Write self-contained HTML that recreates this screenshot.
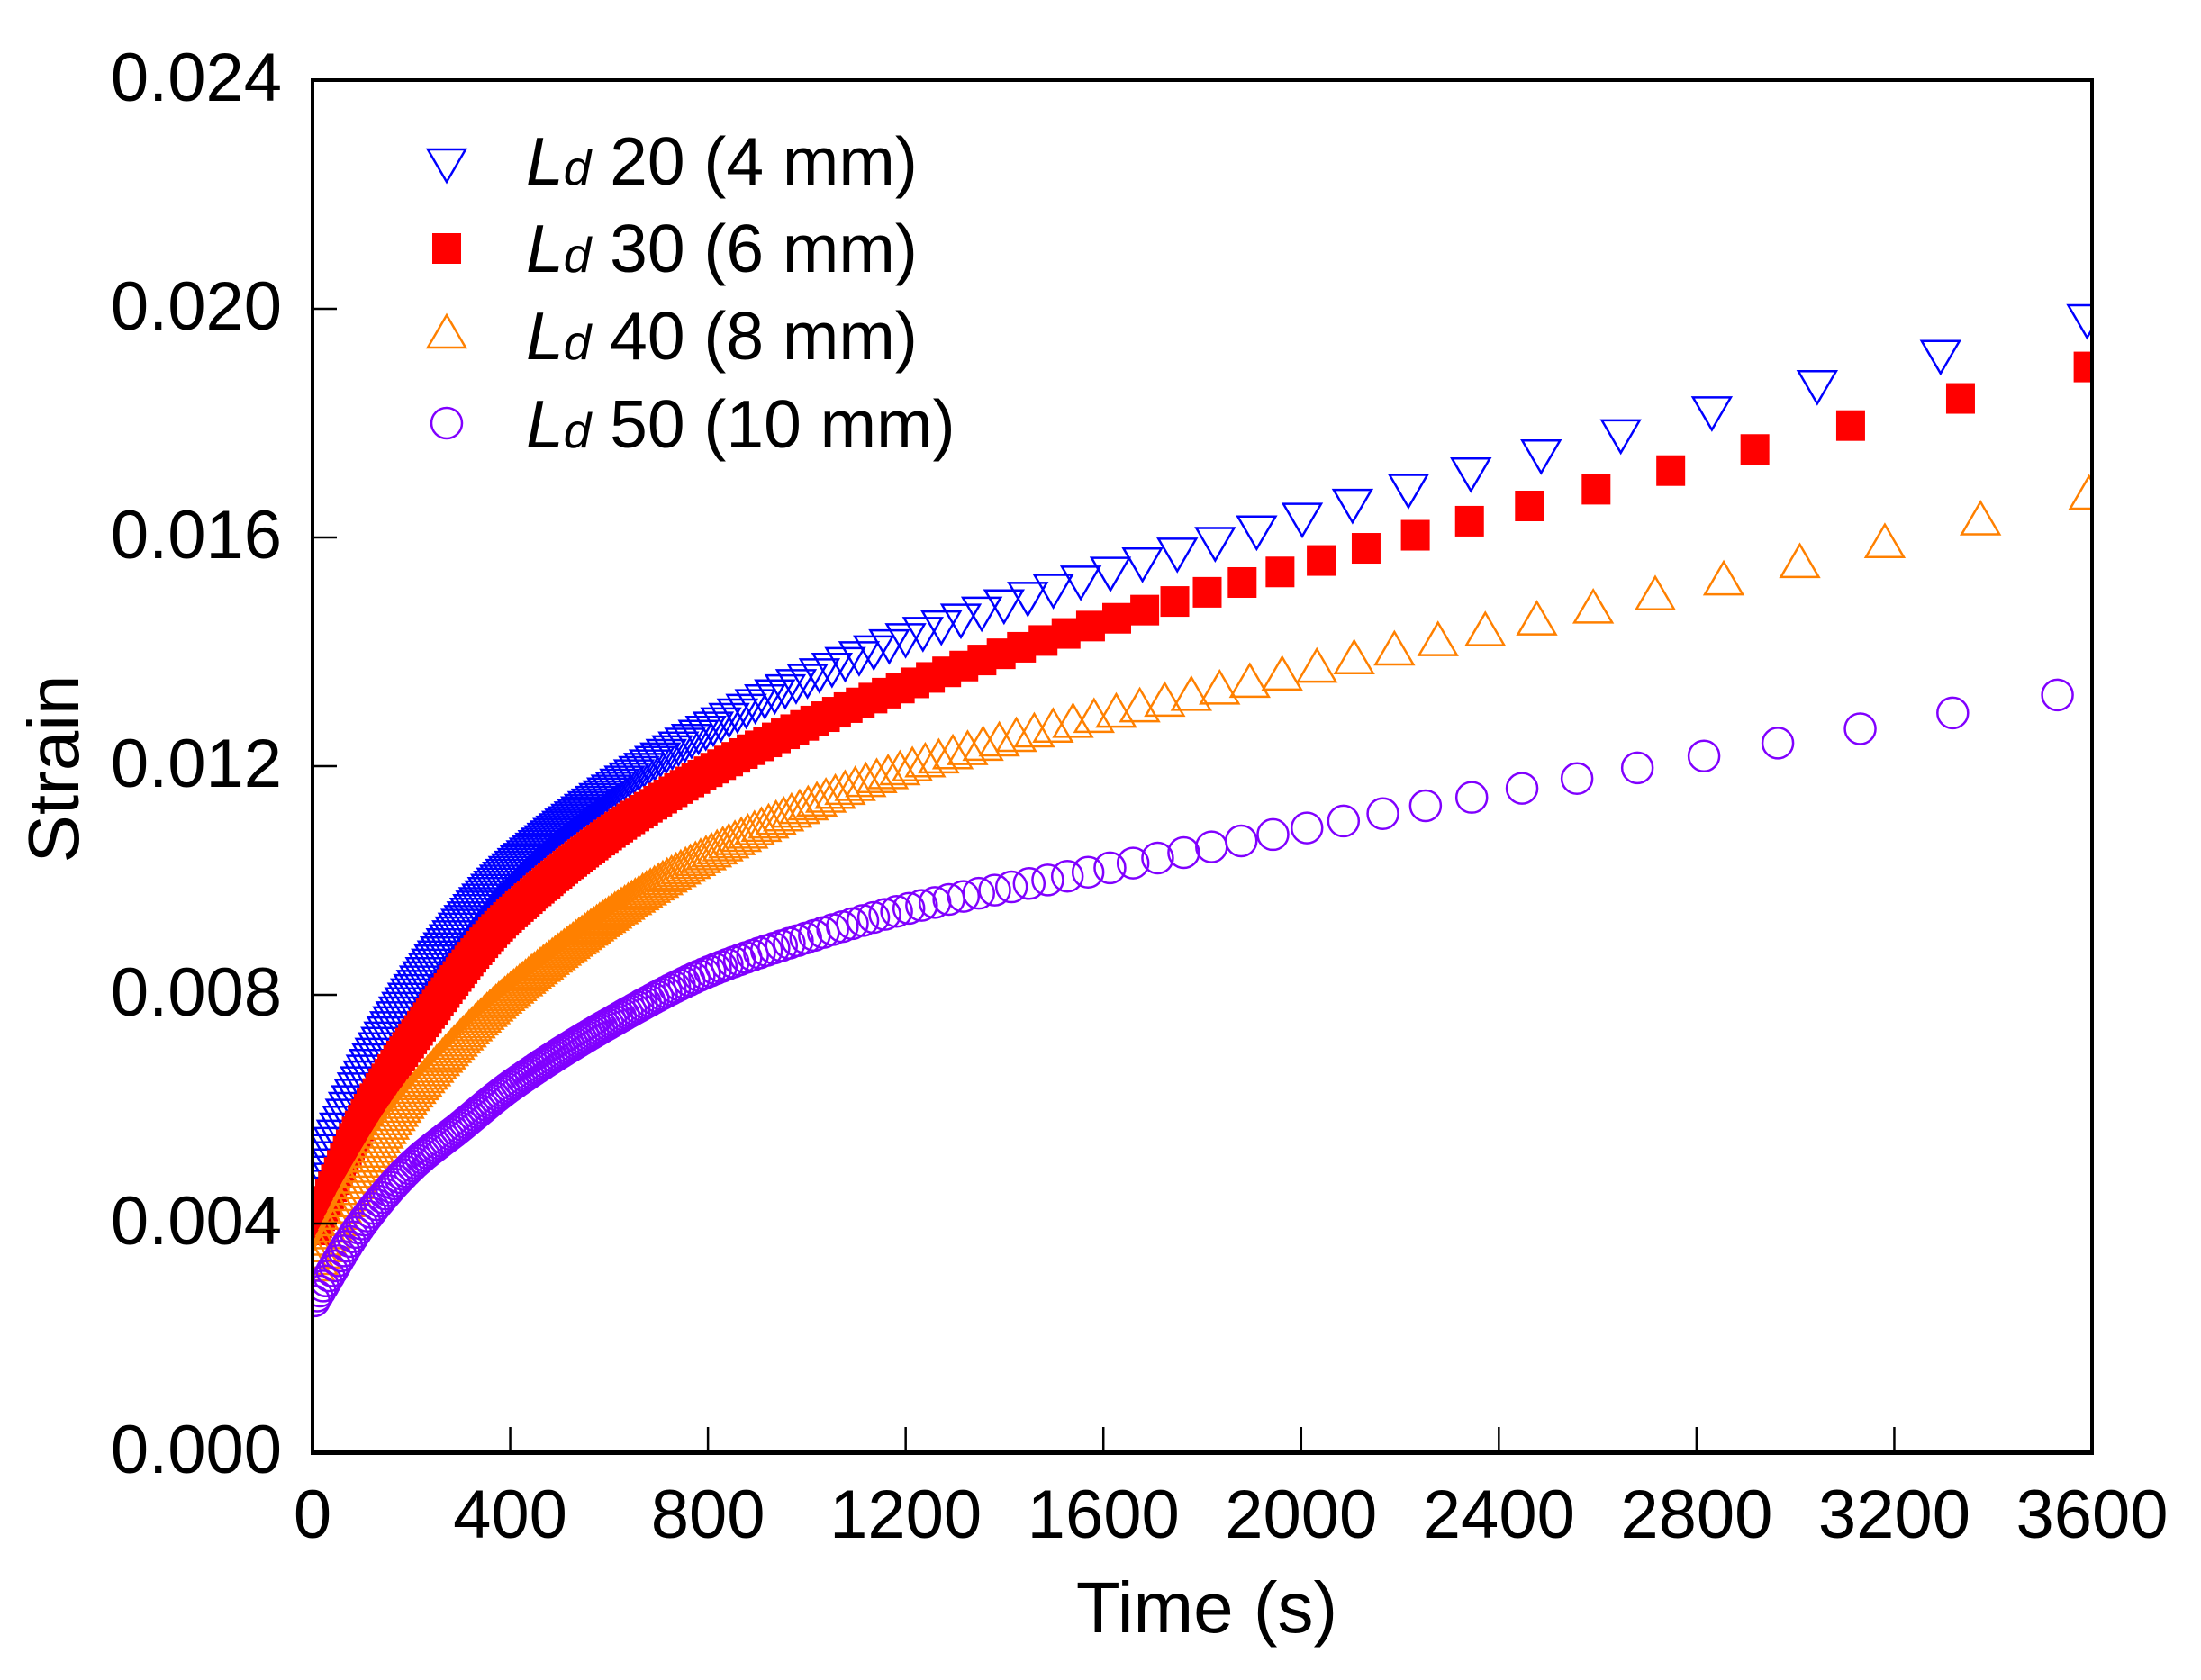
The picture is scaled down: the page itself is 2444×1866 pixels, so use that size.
<!DOCTYPE html>
<html><head><meta charset="utf-8"><style>
html,body{margin:0;padding:0;background:#fff;}
svg{display:block;}
text{font-family:"Liberation Sans",Arial,sans-serif;fill:#000;}
</style></head><body>
<svg id="s" width="2444" height="1866" viewBox="0 0 2444 1866" xmlns="http://www.w3.org/2000/svg">
<defs><clipPath id="c"><rect x="347" y="89" width="1976" height="1524"/></clipPath></defs>
<rect width="2444" height="1866" fill="#fff"/>
<g id="data" clip-path="url(#c)"></g>
<g stroke="#000" fill="none">
<rect x="347" y="89" width="1976" height="1524" stroke-width="4"/>
<line x1="345" y1="1613" x2="2325" y2="1613" stroke-width="6"/>
<g id="ticks" stroke-width="2.5"></g>
</g>
<g id="labels" font-size="76"></g>
<text x="1340" y="1813" font-size="80" text-anchor="middle">Time (s)</text>
<text transform="translate(87,854) rotate(-90)" font-size="80" text-anchor="middle">Strain</text>
<g font-size="75">
<path d="M475,166 L496,202 L517,166 Z" fill="none" stroke="#0000ff" stroke-width="2.5"/>
<rect x="480" y="259" width="32" height="34" fill="#ff0000"/>
<path d="M475,386 L496,350 L517,386 Z" fill="none" stroke="#ff8000" stroke-width="2.5"/>
<circle cx="496" cy="470" r="17" fill="none" stroke="#8000ff" stroke-width="2.5"/>
<text x="584" y="205"><tspan font-style="italic">L</tspan><tspan font-style="italic" font-size="55">d</tspan> 20 (4 mm)</text>
<text x="584" y="302"><tspan font-style="italic">L</tspan><tspan font-style="italic" font-size="55">d</tspan> 30 (6 mm)</text>
<text x="584" y="399"><tspan font-style="italic">L</tspan><tspan font-style="italic" font-size="55">d</tspan> 40 (8 mm)</text>
<text x="584" y="497"><tspan font-style="italic">L</tspan><tspan font-style="italic" font-size="55">d</tspan> 50 (10 mm)</text>
</g>
</svg>
<script>
var NS="http://www.w3.org/2000/svg";
function el(n,a,p){var e=document.createElementNS(NS,n);for(var k in a)e.setAttribute(k,a[k]);p.appendChild(e);return e;}
var X=function(t){return 347+t*1976/3600;}, Y=function(v){return 1613-v*1524/0.024;};
var ticks=document.getElementById('ticks'), lab=document.getElementById('labels');
for(var i=0;i<=9;i++){var x=X(i*400);if(i>0&&i<9)el('line',{x1:x,y1:1613,x2:x,y2:1585},ticks);
 var t=el('text',{x:x,y:1708,'text-anchor':'middle'},lab);t.textContent=String(i*400);}
for(var j=0;j<=6;j++){var y=Y(j*0.004);if(j>0&&j<6)el('line',{x1:347,y1:y,x2:374,y2:y},ticks);
 var t=el('text',{x:313,y:y+23,'text-anchor':'end'},lab);t.textContent=(j*0.004).toFixed(3);}
var S=[
 {c:'#0000ff',m:'dn',end:3590,k:2.3e-5,p:[[0,0.0045],[100,0.0065],[200,0.0080],[400,0.01015],[800,0.0126],[1200,0.0142],[2000,0.0163],[2800,0.0181],[3600,0.0198]]},
 {c:'#ff0000',m:'sq',end:3592,k:2.0e-5,p:[[0,0.0038],[100,0.0058],[200,0.0072],[400,0.0094],[800,0.0119],[1200,0.0134],[2000,0.0155],[2900,0.0175],[3600,0.0190]]},
 {c:'#ff8000',m:'up',end:3594,k:1.7e-5,p:[[0,0.0032],[100,0.0050],[200,0.0063],[400,0.0081],[800,0.0105],[1200,0.0120],[2000,0.0137],[2860,0.0153],[3600,0.0168]]},
 {c:'#8000ff',m:'ci',end:3530,k:1.7e-5,p:[[0,0.0026],[100,0.0040],[200,0.0050],[300,0.0057],[400,0.0064],[600,0.0075],[800,0.0084],[1000,0.0090],[1200,0.0095],[1600,0.0102],[2000,0.0109],[2830,0.0122],[3600,0.01335]]}
];
function mono(p){var n=p.length,d=[],m=[];for(var i=0;i<n-1;i++)d.push((p[i+1][1]-p[i][1])/(p[i+1][0]-p[i][0]));
 m[0]=d[0];m[n-1]=d[n-2];for(var i=1;i<n-1;i++){m[i]=(d[i-1]*d[i]<=0)?0:2/(1/d[i-1]+1/d[i]);}
 return function(t){var i=0;while(i<n-2&&t>p[i+1][0])i++;var h=p[i+1][0]-p[i][0],s=(t-p[i][0])/h;
  var h00=2*s*s*s-3*s*s+1,h10=s*s*s-2*s*s+s,h01=-2*s*s*s+3*s*s,h11=s*s*s-s*s;
  return h00*p[i][1]+h10*h*m[i]+h01*p[i+1][1]+h11*h*m[i+1];};}
var g=document.getElementById('data');
S.forEach(function(s){
 var f=mono(s.p),ts=[],t=s.end;
 while(t>=0){ts.push(t);t-=Math.max(6,s.k*t*t);}
 ts.reverse().forEach(function(t){
  var x=X(t),y=Y(f(t));
  if(s.m=='dn')el('path',{d:'M'+(x-21)+','+(y-18)+' L'+x+','+(y+18)+' L'+(x+21)+','+(y-18)+' Z',fill:'none',stroke:s.c,'stroke-width':2.5},g);
  else if(s.m=='up')el('path',{d:'M'+(x-21)+','+(y+18)+' L'+x+','+(y-18)+' L'+(x+21)+','+(y+18)+' Z',fill:'none',stroke:s.c,'stroke-width':2.5},g);
  else if(s.m=='sq')el('rect',{x:x-16,y:y-17,width:32,height:34,fill:s.c},g);
  else el('circle',{cx:x,cy:y,r:17,fill:'none',stroke:s.c,'stroke-width':2.5},g);
 });
});
</script>
</body></html>
